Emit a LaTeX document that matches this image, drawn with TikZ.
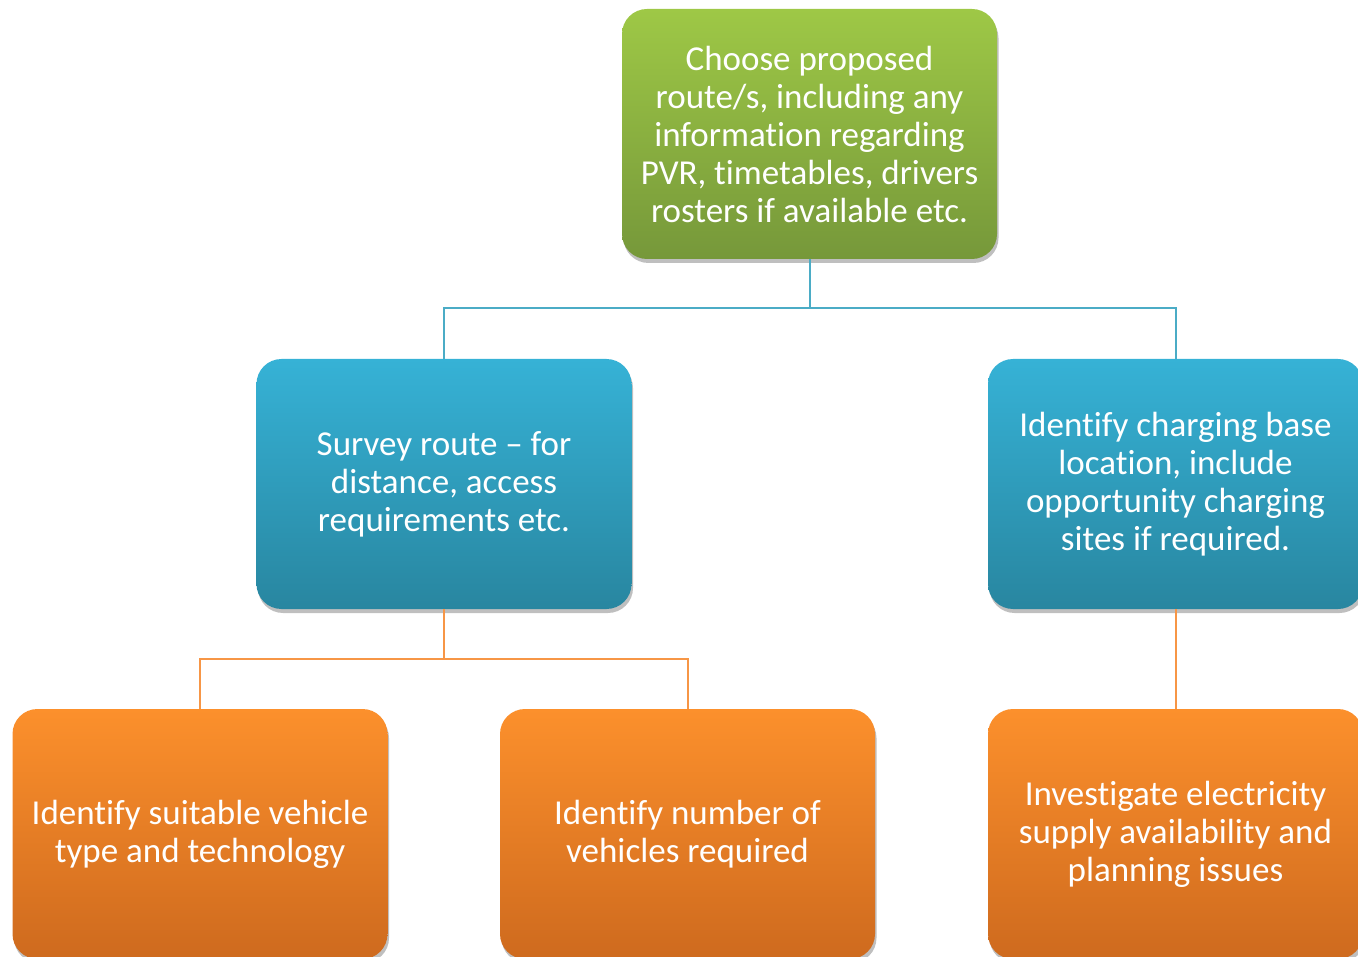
\documentclass[tikz,border=0pt]{standalone}
\usepackage{fontspec}
\setmainfont{Carlito}[Ligatures={NoCommon}]
\usetikzlibrary{positioning,shadows}
\definecolor{greenTop}{HTML}{9EC846}
\definecolor{greenBot}{HTML}{76983A}
\definecolor{blueTop}{HTML}{36B2D6}
\definecolor{blueBot}{HTML}{2886A0}
\definecolor{orangeTop}{HTML}{FC902C}
\definecolor{orangeBot}{HTML}{CE6A1E}
\definecolor{blueline}{HTML}{4BACC6}
\definecolor{orangeline}{HTML}{F79646}
\begin{document}
\begin{tikzpicture}[x=1pt,y=-1pt,
  box/.style={rectangle,rounded corners=25pt,minimum width=375pt,minimum height=250pt,
    text=white,align=center,font=\fontsize{35}{38}\selectfont,inner sep=0pt,
    drop shadow={opacity=0.25,shadow xshift=1.5pt,shadow yshift=-4pt,fill=black}},
  greenbox/.style={box,top color=greenTop,bottom color=greenBot},
  bluebox/.style={box,top color=blueTop,bottom color=blueBot},
  orangebox/.style={box,top color=orangeTop,bottom color=orangeBot},
  link/.style={line width=2pt}]
  \useasboundingbox (0,0) rectangle (1358,957);
  \node[greenbox] (route) at (809.5,134) {Choose proposed\\route/s, including any\\information regarding\\PVR, timetables, drivers\\rosters if available etc.};
  \node[bluebox] (survey) at (444,484) {Survey route \textendash{} for\\distance, access\\requirements etc.};
  \node[bluebox] (charge) at (1175.5,484) {Identify charging base\\location, include\\opportunity charging\\sites if required.};
  \node[orangebox] (vtype) at (200,834) {Identify suitable vehicle\\type and technology};
  \node[orangebox] (vnum) at (687.5,834) {Identify number of\\vehicles required};
  \node[orangebox] (supply) at (1175.5,834) {Investigate electricity\\supply availability and\\planning issues};
  \draw[link,blueline] (route.south) -- ++(0,49) -| (survey.north);
  \draw[link,blueline] (route.south) -- ++(0,49) -| (charge.north);
  \draw[link,orangeline] (survey.south) -- ++(0,50) -| (vtype.north);
  \draw[link,orangeline] (survey.south) -- ++(0,50) -| (vnum.north);
  \draw[link,orangeline] (charge.south) -- (supply.north);
\end{tikzpicture}
\end{document}
